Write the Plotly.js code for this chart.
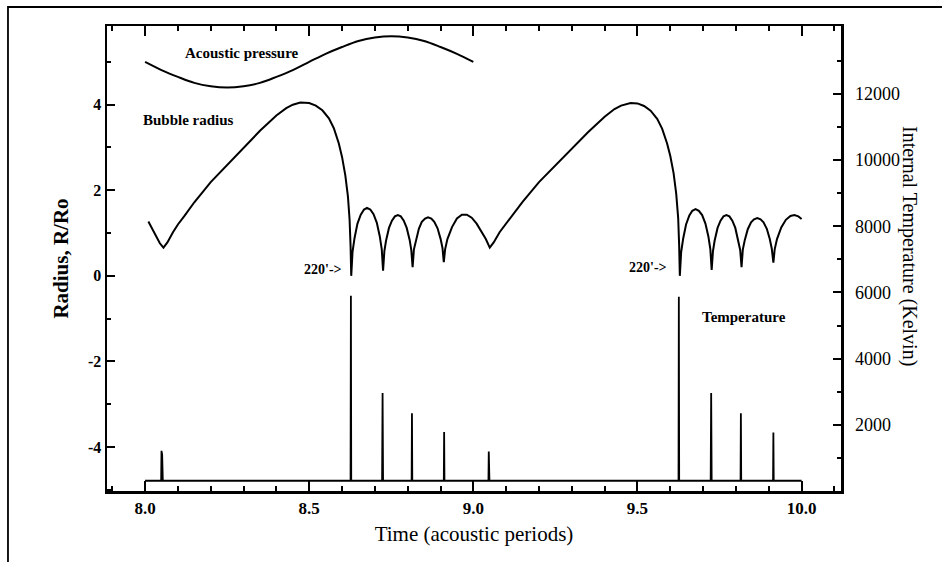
<!DOCTYPE html>
<html>
<head>
<meta charset="utf-8">
<script src="https://cdn.plot.ly/plotly-3.0.1.min.js"></script>
<style>
  html, body { margin: 0; padding: 0; background: #ffffff; }
  #chart { width: 942px; height: 562px; }
</style>
</head>
<body>
<div id="chart"></div>
<script>
// ---- Data ----
// Acoustic pressure (plotted on the radius axis scale)
const pressureTime = [8.00, 8.05, 8.10, 8.15, 8.20, 8.25, 8.30, 8.35, 8.40, 8.45, 8.50,
                      8.55, 8.60, 8.65, 8.70, 8.75, 8.80, 8.85, 8.90, 8.95, 9.00];
const pressureVal  = [5.00, 4.81, 4.65, 4.51, 4.43, 4.40, 4.43, 4.51, 4.65, 4.81, 5.00,
                      5.19, 5.35, 5.49, 5.57, 5.60, 5.57, 5.49, 5.35, 5.19, 5.00];

// Bubble radius R/Ro
const radiusTime = [
  8.010, 8.030, 8.045, 8.056, 8.068, 8.085, 8.100, 8.120, 8.150, 8.200, 8.250, 8.300, 8.350,
  8.400, 8.430, 8.450, 8.473, 8.500, 8.520, 8.540, 8.560, 8.575, 8.590, 8.600, 8.610, 8.618,
  8.623, 8.626, 8.628,
  8.632, 8.638, 8.647, 8.657, 8.667, 8.676, 8.686, 8.696, 8.706, 8.715, 8.721, 8.725,
  8.729, 8.734, 8.743, 8.752, 8.761, 8.770, 8.779, 8.788, 8.797, 8.806, 8.811, 8.815,
  8.819, 8.825, 8.834, 8.843, 8.853, 8.862, 8.872, 8.881, 8.891, 8.900, 8.906, 8.910,
  8.914, 8.921, 8.935, 8.950, 8.965, 8.980, 8.995, 9.010, 9.025, 9.038, 9.050,
  9.062, 9.080, 9.100, 9.120, 9.150, 9.200, 9.250, 9.300, 9.350, 9.400, 9.430, 9.450,
  9.479, 9.500, 9.520, 9.540, 9.560, 9.575, 9.590, 9.600, 9.610, 9.618, 9.624, 9.627, 9.629,
  9.633, 9.639, 9.648, 9.658, 9.667, 9.677, 9.687, 9.697, 9.707, 9.716, 9.722, 9.726,
  9.730, 9.735, 9.744, 9.753, 9.762, 9.771, 9.780, 9.789, 9.798, 9.807, 9.813, 9.817,
  9.821, 9.827, 9.836, 9.846, 9.855, 9.865, 9.875, 9.884, 9.894, 9.903, 9.909, 9.914,
  9.918, 9.925, 9.938, 9.952, 9.966, 9.978, 9.990, 10.000];
const radiusVal = [
  1.27, 0.98, 0.76, 0.66, 0.78, 1.02, 1.20, 1.40, 1.72, 2.19, 2.59, 2.99, 3.39,
  3.75, 3.92, 4.00, 4.05, 4.04, 3.98, 3.87, 3.68, 3.45, 3.10, 2.78, 2.35, 1.85,
  1.31, 0.70, 0.00,
  0.56, 0.88, 1.22, 1.43, 1.55, 1.59, 1.55, 1.44, 1.24, 0.92, 0.62, 0.12,
  0.58, 0.82, 1.12, 1.29, 1.39, 1.42, 1.39, 1.29, 1.12, 0.84, 0.60, 0.20,
  0.62, 0.84, 1.10, 1.26, 1.34, 1.37, 1.34, 1.26, 1.11, 0.87, 0.65, 0.32,
  0.62, 0.86, 1.14, 1.34, 1.43, 1.43, 1.36, 1.22, 1.04, 0.86, 0.66,
  0.78, 1.02, 1.22, 1.42, 1.73, 2.19, 2.58, 2.97, 3.36, 3.72, 3.90, 3.98,
  4.04, 4.03, 3.97, 3.86, 3.67, 3.44, 3.10, 2.80, 2.40, 1.92, 1.35, 0.70, 0.00,
  0.55, 0.86, 1.20, 1.41, 1.52, 1.56, 1.52, 1.42, 1.22, 0.92, 0.62, 0.14,
  0.58, 0.82, 1.12, 1.29, 1.39, 1.42, 1.39, 1.29, 1.12, 0.84, 0.60, 0.20,
  0.62, 0.84, 1.09, 1.25, 1.32, 1.35, 1.32, 1.25, 1.10, 0.86, 0.64, 0.31,
  0.62, 0.86, 1.13, 1.31, 1.40, 1.42, 1.39, 1.33];

// Internal temperature (Kelvin)
const tempTime = [8.000, 8.049, 8.050, 8.051, 8.052, 8.054,
                  8.626, 8.627, 8.628,
                  8.722, 8.7235, 8.725,
                  8.812, 8.813, 8.814,
                  8.910, 8.911, 8.912,
                  9.046, 9.047, 9.049,
                  9.625, 9.626, 9.627,
                  9.723, 9.7245, 9.726,
                  9.814, 9.815, 9.816,
                  9.913, 9.914, 9.915, 10.000];
const tempVal  = [310, 310, 1215, 1150, 1100, 310,
                  310, 5900, 310,
                  310, 2960, 310,
                  310, 2350, 310,
                  310, 1780, 310,
                  310, 1190, 310,
                  310, 5870, 310,
                  310, 2960, 310,
                  310, 2350, 310,
                  310, 1770, 310, 310];

// Tick labels and tick positions
const xTickVals = [8.0, 8.5, 9.0, 9.5, 10.0];
const xTickText = ['8.0', '8.5', '9.0', '9.5', '10.0'];
const xMinorVals = [7.9, 8.1, 8.2, 8.3, 8.4, 8.6, 8.7, 8.8, 8.9, 9.1, 9.2, 9.3, 9.4, 9.6, 9.7, 9.8, 9.9, 10.1];
const yTickVals = [-4, -2, 0, 2, 4];
const yTickText = ['-4', '-2', '0', '2', '4'];
const yMinorVals = [-5, -3, -1, 1, 3, 5];
const y2TickVals = [2000, 4000, 6000, 8000, 10000, 12000];
const y2TickText = ['2000', '4000', '6000', '8000', '10000', '12000'];
const y2MinorVals = [1000, 3000, 5000, 7000, 9000, 11000, 13000];

// ---- Chart ----
const serif = 'Liberation Serif, Times New Roman, serif';

const traces = [
  { x: pressureTime, y: pressureVal, type: 'scatter', mode: 'lines',
    line: { color: '#000', width: 2, shape: 'spline' }, hoverinfo: 'skip' },
  { x: radiusTime, y: radiusVal, type: 'scatter', mode: 'lines',
    line: { color: '#000', width: 2 }, hoverinfo: 'skip' },
  { x: tempTime, y: tempVal, type: 'scatter', mode: 'lines', yaxis: 'y2',
    line: { color: '#000', width: 1.8 }, hoverinfo: 'skip' }
];

const layout = {
  width: 942, height: 562,
  margin: { l: 107, r: 101, t: 26, b: 71 },
  paper_bgcolor: '#fff', plot_bgcolor: 'rgba(0,0,0,0)',
  showlegend: false,
  font: { family: serif, color: '#000' },
  xaxis: {
    range: [7.884, 10.12],
    tickmode: 'array', tickvals: xTickVals, ticktext: xTickText,
    ticks: 'inside', ticklen: 10, tickwidth: 2, tickcolor: '#000',
    showline: true, linewidth: 2.5, linecolor: '#000', mirror: 'ticks',
    showgrid: false, zeroline: false,
    tickfont: { family: serif, size: 17, weight: 'bold' },
    minor: { tickmode: 'array', tickvals: xMinorVals, ticks: 'inside', ticklen: 5,
             tickwidth: 2, tickcolor: '#000', showgrid: false },
    title: { text: 'Time (acoustic periods)', font: { family: serif, size: 21 }, standoff: 10 }
  },
  yaxis: {
    range: [-5.03, 5.84],
    tickmode: 'array', tickvals: yTickVals, ticktext: yTickText,
    ticks: 'inside', ticklen: 8, tickwidth: 2, tickcolor: '#000',
    showline: true, linewidth: 2.5, linecolor: '#000',
    showgrid: false, zeroline: false,
    tickfont: { family: serif, size: 16, weight: 'bold' },
    minor: { tickmode: 'array', tickvals: yMinorVals, ticks: 'inside', ticklen: 4,
             tickwidth: 2, tickcolor: '#000', showgrid: false },
    title: { text: 'Radius, R/Ro', font: { family: serif, size: 21, weight: 'bold' }, standoff: 14 }
  },
  yaxis2: {
    overlaying: 'y', side: 'right', anchor: 'x',
    range: [0, 14050],
    tickmode: 'array', tickvals: y2TickVals, ticktext: y2TickText,
    ticks: 'inside', ticklen: 8, tickwidth: 2, tickcolor: '#000',
    showline: true, linewidth: 2.5, linecolor: '#000',
    showgrid: false, zeroline: false,
    tickfont: { family: serif, size: 18 },
    ticklabelstandoff: 8,
    minor: { tickmode: 'array', tickvals: y2MinorVals, ticks: 'inside', ticklen: 4,
             tickwidth: 2, tickcolor: '#000', showgrid: false }
  },
  annotations: [
    { text: 'Acoustic pressure', x: 8.296, y: 5.20, xref: 'x', yref: 'y', showarrow: false,
      font: { family: serif, size: 15, weight: 'bold' } },
    { text: 'Bubble radius', x: 8.133, y: 3.64, xref: 'x', yref: 'y', showarrow: false,
      font: { family: serif, size: 15, weight: 'bold' } },
    { text: "220'->", x: 8.542, y: 0.14, xref: 'x', yref: 'y', showarrow: false,
      font: { family: serif, size: 14, weight: 'bold' } },
    { text: "220'->", x: 9.532, y: 0.19, xref: 'x', yref: 'y', showarrow: false,
      font: { family: serif, size: 14, weight: 'bold' } },
    { text: 'Temperature', x: 9.825, y: -0.96, xref: 'x', yref: 'y', showarrow: false,
      font: { family: serif, size: 15, weight: 'bold' } },
    { text: 'Internal Temperature (Kelvin)', x: 1.0926, y: 0.527, xref: 'paper', yref: 'paper',
      xanchor: 'center', yanchor: 'middle',
      showarrow: false, textangle: 90, font: { family: serif, size: 20 } }
  ],
  shapes: [
    { type: 'path', xref: 'paper', yref: 'paper',
      path: 'M -0.1349 -0.3 L -0.1349 1.0409 L 1.3 1.0409',
      line: { color: '#000', width: 1.8 } }
  ]
};

Plotly.newPlot('chart', traces, layout, { staticPlot: true, displayModeBar: false });
</script>
</body>
</html>
